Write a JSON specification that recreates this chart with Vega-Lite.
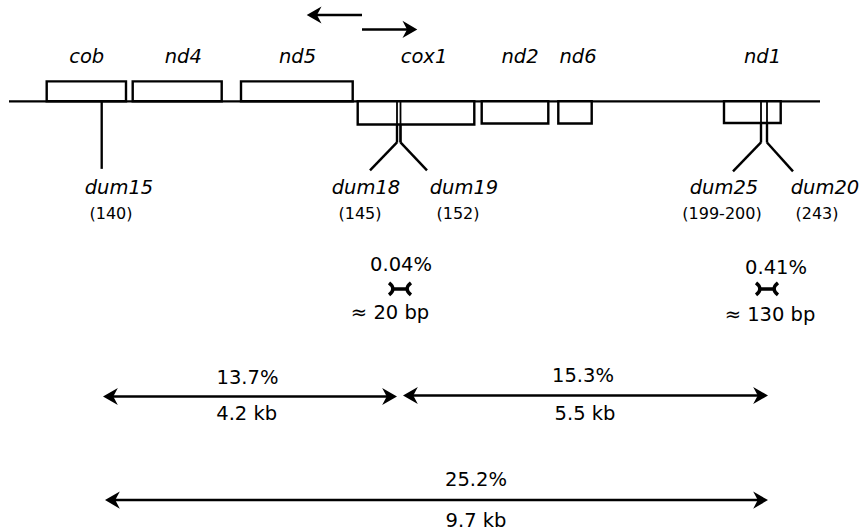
{
  "$schema": "https://vega.github.io/schema/vega-lite/v6.json",
  "width": 860,
  "height": 531,
  "autosize": {"type": "fit", "contains": "padding"},
  "padding": 0,
  "background": "white",
  "config": {"view": {"stroke": null}},
  "datasets": {
    "segments": [
      {"part": "chromosome", "kind": "baseline", "x": 9, "y": 101.7, "x2": 820, "y2": 101.7},
      {"part": "dum15", "kind": "stem", "x": 101.7, "y": 101.7, "x2": 101.7, "y2": 169.5},
      {"part": "dum18", "kind": "vertical", "x": 397, "y": 102, "x2": 397, "y2": 143},
      {"part": "dum19", "kind": "vertical", "x": 400.5, "y": 102, "x2": 400.5, "y2": 143},
      {"part": "dum25", "kind": "vertical", "x": 761, "y": 102, "x2": 761, "y2": 143},
      {"part": "dum20", "kind": "vertical", "x": 767, "y": 102, "x2": 767, "y2": 143},
      {"part": "dum18", "kind": "diagonal", "x": 397, "y": 143, "x2": 370, "y2": 171},
      {"part": "dum19", "kind": "diagonal", "x": 400.5, "y": 143, "x2": 427, "y2": 171},
      {"part": "dum25", "kind": "diagonal", "x": 761, "y": 143, "x2": 733, "y2": 172},
      {"part": "dum20", "kind": "diagonal", "x": 767, "y": 143, "x2": 793, "y2": 172},
      {"part": "strand left", "kind": "arrow", "x": 314, "y": 15, "x2": 362, "y2": 15},
      {"part": "strand right", "kind": "arrow", "x": 362, "y": 29.5, "x2": 410, "y2": 29.5},
      {"part": "13.7%", "kind": "arrow", "x": 110, "y": 398, "x2": 390, "y2": 398},
      {"part": "15.3%", "kind": "arrow", "x": 410, "y": 397, "x2": 761, "y2": 397},
      {"part": "25.2%", "kind": "arrow", "x": 112, "y": 502, "x2": 761, "y2": 502}
    ],
    "heads": [
      {"part": "strand left", "dir": "left", "x": 306.7, "y": 15},
      {"part": "strand right", "dir": "right", "x": 417.3, "y": 29.5},
      {"part": "13.7% left", "dir": "left", "x": 103, "y": 398},
      {"part": "13.7% right", "dir": "right", "x": 397, "y": 398},
      {"part": "15.3% left", "dir": "left", "x": 403, "y": 397},
      {"part": "15.3% right", "dir": "right", "x": 768, "y": 397},
      {"part": "25.2% left", "dir": "left", "x": 105, "y": 502},
      {"part": "25.2% right", "dir": "right", "x": 768, "y": 502}
    ],
    "ties": [
      {"pair": "dum18-dum19", "x": 400, "y": 290},
      {"pair": "dum25-dum20", "x": 767, "y": 290}
    ],
    "genes": [
      {"gene": "cob", "x": 46.7, "x2": 126, "y": 81.7, "y2": 101.7},
      {"gene": "nd4", "x": 132.7, "x2": 221.7, "y": 81.7, "y2": 101.7},
      {"gene": "nd5", "x": 241, "x2": 352.7, "y": 81.7, "y2": 101.7},
      {"gene": "cox1", "x": 357.7, "x2": 474.3, "y": 101.7, "y2": 125},
      {"gene": "nd2", "x": 481.7, "x2": 548.3, "y": 101.7, "y2": 124},
      {"gene": "nd6", "x": 558.3, "x2": 591.7, "y": 101.7, "y2": 124},
      {"gene": "nd1", "x": 724, "x2": 780.7, "y": 101.7, "y2": 123.5}
    ],
    "italicText": [
      {"label": "cob", "x": 86.7, "y": 63},
      {"label": "nd4", "x": 183.3, "y": 63},
      {"label": "nd5", "x": 297.5, "y": 63},
      {"label": "cox1", "x": 424, "y": 63},
      {"label": "nd2", "x": 520, "y": 63},
      {"label": "nd6", "x": 578, "y": 63},
      {"label": "nd1", "x": 762.5, "y": 63},
      {"label": "dum15", "x": 119, "y": 195},
      {"label": "dum18", "x": 366, "y": 195},
      {"label": "dum19", "x": 464, "y": 195},
      {"label": "dum25", "x": 724, "y": 195},
      {"label": "dum20", "x": 825, "y": 195}
    ],
    "smallText": [
      {"label": "(140)", "x": 111, "y": 220},
      {"label": "(145)", "x": 360, "y": 220},
      {"label": "(152)", "x": 458, "y": 220},
      {"label": "(199-200)", "x": 722, "y": 220},
      {"label": "(243)", "x": 817, "y": 220}
    ],
    "statText": [
      {"label": "0.04%", "x": 401, "y": 272},
      {"label": "≈ 20 bp", "x": 390, "y": 320},
      {"label": "0.41%", "x": 776, "y": 275},
      {"label": "≈ 130 bp", "x": 770, "y": 322},
      {"label": "13.7%", "x": 247.5, "y": 385},
      {"label": "4.2 kb", "x": 246.7, "y": 422},
      {"label": "15.3%", "x": 583, "y": 383},
      {"label": "5.5 kb", "x": 585, "y": 422},
      {"label": "25.2%", "x": 476, "y": 488},
      {"label": "9.7 kb", "x": 476, "y": 529}
    ]
  },
  "encoding": {
    "x": {"field": "x", "type": "quantitative", "scale": {"domain": [0, 860], "nice": false, "zero": false}, "axis": null},
    "y": {"field": "y", "type": "quantitative", "scale": {"domain": [0, 531], "nice": false, "zero": false, "reverse": true}, "axis": null}
  },
  "layer": [
    {
      "data": {"name": "segments"},
      "mark": {"type": "rule", "color": "black", "strokeCap": "butt"},
      "encoding": {
        "x2": {"field": "x2"},
        "y2": {"field": "y2"},
        "strokeWidth": {
          "field": "kind", "type": "nominal", "legend": null,
          "scale": {"domain": ["baseline", "stem", "vertical", "diagonal", "arrow"], "range": [2.3, 2.5, 1.8, 3, 3]}
        }
      }
    },
    {
      "data": {"name": "genes"},
      "mark": {"type": "rect", "fill": "white", "stroke": "black", "strokeWidth": 2.4},
      "encoding": {
        "x2": {"field": "x2"},
        "y2": {"field": "y2"}
      }
    },
    {
      "data": {"name": "segments"},
      "transform": [{"filter": "datum.kind === 'vertical'"}],
      "mark": {"type": "rule", "color": "black", "strokeWidth": 1.8},
      "encoding": {
        "x2": {"field": "x2"},
        "y2": {"field": "y2"}
      }
    },
    {
      "data": {"name": "heads"},
      "mark": {"type": "point", "filled": true, "color": "black", "opacity": 1, "size": 520},
      "encoding": {
        "shape": {
          "field": "dir", "type": "nominal", "legend": null,
          "scale": {"domain": ["left", "right"], "range": ["M0,0 L1.3,-0.75 L0.9,0 L1.3,0.75 Z", "M0,0 L-1.3,-0.75 L-0.9,0 L-1.3,0.75 Z"]}
        }
      }
    },
    {
      "data": {"name": "ties"},
      "mark": {"type": "point", "filled": false, "color": "black", "opacity": 1, "strokeWidth": 3.5, "size": 480,
               "shape": "M-1,-0.55 Q-0.3,0 -1,0.55 M1,-0.55 Q0.3,0 1,0.55 M-0.55,0 L0.55,0"}
    },
    {
      "data": {"name": "italicText"},
      "mark": {"type": "text", "font": "DejaVu Sans", "fontStyle": "italic", "fontSize": 19.5, "align": "center", "baseline": "alphabetic", "color": "black"},
      "encoding": {"text": {"field": "label"}}
    },
    {
      "data": {"name": "smallText"},
      "mark": {"type": "text", "font": "DejaVu Sans", "fontSize": 16, "align": "center", "baseline": "alphabetic", "color": "black"},
      "encoding": {"text": {"field": "label"}}
    },
    {
      "data": {"name": "statText"},
      "mark": {"type": "text", "font": "DejaVu Sans", "fontSize": 19.5, "align": "center", "baseline": "alphabetic", "color": "black"},
      "encoding": {"text": {"field": "label"}}
    }
  ]
}
